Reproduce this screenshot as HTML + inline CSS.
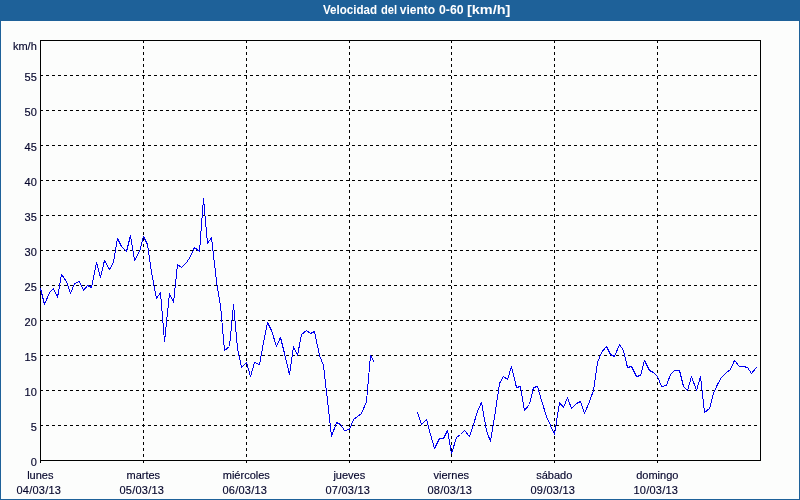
<!DOCTYPE html>
<html lang="es"><head><meta charset="utf-8"><title>Velocidad del viento</title>
<style>
html,body{margin:0;padding:0;}
body{width:800px;height:500px;overflow:hidden;background:#fcfdfc;font-family:"Liberation Sans",sans-serif;font-size:11px;color:#06062c;-webkit-text-stroke:0.15px #06062c;position:relative;}
#frame{position:absolute;left:0;top:20px;width:798px;height:478px;border:1px solid #1e6199;}
#hdr{-webkit-text-stroke:0;position:absolute;left:0;top:0;width:800px;height:20px;background:#1e6199;color:#fff;font-weight:bold;font-size:11px;line-height:20px;text-align:center;}
#hdr span{position:absolute;top:0;white-space:nowrap;font-size:12px;transform-origin:0 0;}
svg{position:absolute;left:0;top:0;}
.yl{position:absolute;left:0;width:36.8px;text-align:right;height:13px;line-height:13px;white-space:nowrap;}
.dn{position:relative;left:0.3px;}.dt{position:relative;left:-1.2px;letter-spacing:0.25px;}
.xl{position:absolute;top:468px;width:100px;text-align:center;line-height:15px;white-space:nowrap;}
</style></head><body>
<div id="frame"></div>
<div id="hdr"><span style="left:323px;transform:scaleX(0.965)">Velocidad</span> <span style="left:380.6px;transform:scaleX(0.93)">del</span> <span style="left:399.8px;transform:scaleX(1.0)">viento</span> <span style="left:439px;transform:scaleX(1.02)">0-60</span> <span style="left:467.3px;transform:scaleX(1.205)">[km/h]</span></div>
<svg width="800" height="500" viewBox="0 0 800 500" shape-rendering="crispEdges">
<g stroke="#000" stroke-width="1" stroke-dasharray="3 3" fill="none"><line x1="40" y1="75.5" x2="760" y2="75.5"/><line x1="40" y1="110.5" x2="760" y2="110.5"/><line x1="40" y1="145.5" x2="760" y2="145.5"/><line x1="40" y1="180.5" x2="760" y2="180.5"/><line x1="40" y1="215.5" x2="760" y2="215.5"/><line x1="40" y1="250.5" x2="760" y2="250.5"/><line x1="40" y1="285.5" x2="760" y2="285.5"/><line x1="40" y1="320.5" x2="760" y2="320.5"/><line x1="40" y1="355.5" x2="760" y2="355.5"/><line x1="40" y1="390.5" x2="760" y2="390.5"/><line x1="40" y1="425.5" x2="760" y2="425.5"/><line x1="143.5" y1="40" x2="143.5" y2="460"/><line x1="246.5" y1="40" x2="246.5" y2="460"/><line x1="349.5" y1="40" x2="349.5" y2="460"/><line x1="451.5" y1="40" x2="451.5" y2="460"/><line x1="554.5" y1="40" x2="554.5" y2="460"/><line x1="657.5" y1="40" x2="657.5" y2="460"/></g>
<g stroke="#000" stroke-width="1" fill="none"><rect x="40.5" y="40.5" width="720" height="420"/><line x1="40.5" y1="460" x2="40.5" y2="463"/><line x1="143.5" y1="460" x2="143.5" y2="463"/><line x1="246.5" y1="460" x2="246.5" y2="463"/><line x1="349.5" y1="460" x2="349.5" y2="463"/><line x1="451.5" y1="460" x2="451.5" y2="463"/><line x1="554.5" y1="460" x2="554.5" y2="463"/><line x1="657.5" y1="460" x2="657.5" y2="463"/></g>
<g stroke="#0000f0" stroke-width="1" fill="none" stroke-linejoin="bevel"><polyline points="40.5,288.5 44.5,304.5 49.5,292.5 53.5,288.5 57.5,297.5 61.5,274.5 66.5,281.5 70.5,293.5 74.5,283.5 79.5,281.5 83.5,290.5 87.5,285.5 91.5,287.5 96.5,262.5 100.5,277.5 104.5,260.5 109.5,269.5 113.5,262.5 117.5,238.5 121.5,246.5 126.5,251.5 130.5,235.5 134.5,260.5 139.5,251.5 143.5,236.5 147.5,244.5 151.5,272.5 156.5,298.5 160.5,292.5 164.5,341.5 169.5,293.5 173.5,302.5 177.5,264.5 181.5,267.5 186.5,262.5 190.5,256.5 194.5,247.5 199.5,251.5 203.5,198.5 207.5,243.5 211.5,237.5 216.5,281.5 220.5,305.5 224.5,350.5 229.5,346.5 233.5,304.5 237.5,348.5 241.5,367.5 246.5,362.5 250.5,376.5 254.5,362.5 259.5,364.5 263.5,342.5 267.5,322.5 271.5,330.5 276.5,346.5 280.5,337.5 284.5,353.5 289.5,374.5 293.5,346.5 297.5,355.5 301.5,334.5 306.5,330.5 310.5,333.5 314.5,331.5 319.5,355.5 323.5,365.5 327.5,400.5 331.5,436.5 336.5,422.5 340.5,424.5 344.5,430.5 349.5,429.5 353.5,419.5 357.5,416.5 361.5,413.5 366.5,401.5 370.5,355.5 374.5,362.5"/><polyline points="417.5,412.5 421.5,424.5 426.5,419.5 430.5,434.5 434.5,448.5 439.5,438.5 443.5,438.5 447.5,430.5 451.5,453.5 456.5,437.5 460.5,434.5 464.5,430.5 469.5,436.5 473.5,424.5 477.5,411.5 481.5,402.5 486.5,430.5 490.5,441.5 494.5,417.5 499.5,383.5 503.5,376.5 507.5,379.5 511.5,366.5 516.5,387.5 520.5,386.5 524.5,410.5 529.5,404.5 533.5,387.5 537.5,386.5 541.5,400.5 546.5,416.5 550.5,425.5 554.5,434.5 559.5,402.5 563.5,407.5 567.5,397.5 571.5,408.5 576.5,403.5 580.5,401.5 584.5,413.5 589.5,401.5 593.5,390.5 597.5,362.5 601.5,352.5 606.5,346.5 610.5,354.5 614.5,356.5 619.5,344.5 623.5,350.5 627.5,367.5 631.5,366.5 636.5,376.5 640.5,375.5 644.5,360.5 649.5,370.5 653.5,372.5 657.5,376.5 661.5,386.5 666.5,385.5 670.5,374.5 674.5,370.5 679.5,370.5 683.5,386.5 687.5,390.5 691.5,376.5 696.5,390.5 700.5,376.5 704.5,412.5 709.5,408.5 713.5,393.5 717.5,384.5 721.5,377.5 726.5,372.5 730.5,369.5 734.5,360.5 739.5,366.5 743.5,366.5 747.5,367.5 751.5,373.5 756.5,367.5"/></g>
</svg>
<div class="yl" style="top:40px">km/h</div><div class="yl" style="top:71px">55</div><div class="yl" style="top:106px">50</div><div class="yl" style="top:141px">45</div><div class="yl" style="top:176px">40</div><div class="yl" style="top:211px">35</div><div class="yl" style="top:246px">30</div><div class="yl" style="top:281px">25</div><div class="yl" style="top:316px">20</div><div class="yl" style="top:351px">15</div><div class="yl" style="top:386px">10</div><div class="yl" style="top:421px">5</div><div class="yl" style="top:456px">0</div>
<div class="xl" style="left:-10px"><span class="dn">lunes</span><br><span class="dt">04/03/13</span></div><div class="xl" style="left:93px"><span class="dn">martes</span><br><span class="dt">05/03/13</span></div><div class="xl" style="left:196px"><span class="dn">miércoles</span><br><span class="dt">06/03/13</span></div><div class="xl" style="left:299px"><span class="dn">jueves</span><br><span class="dt">07/03/13</span></div><div class="xl" style="left:401px"><span class="dn">viernes</span><br><span class="dt">08/03/13</span></div><div class="xl" style="left:504px"><span class="dn">sábado</span><br><span class="dt">09/03/13</span></div><div class="xl" style="left:607px"><span class="dn">domingo</span><br><span class="dt">10/03/13</span></div>
</body></html>
